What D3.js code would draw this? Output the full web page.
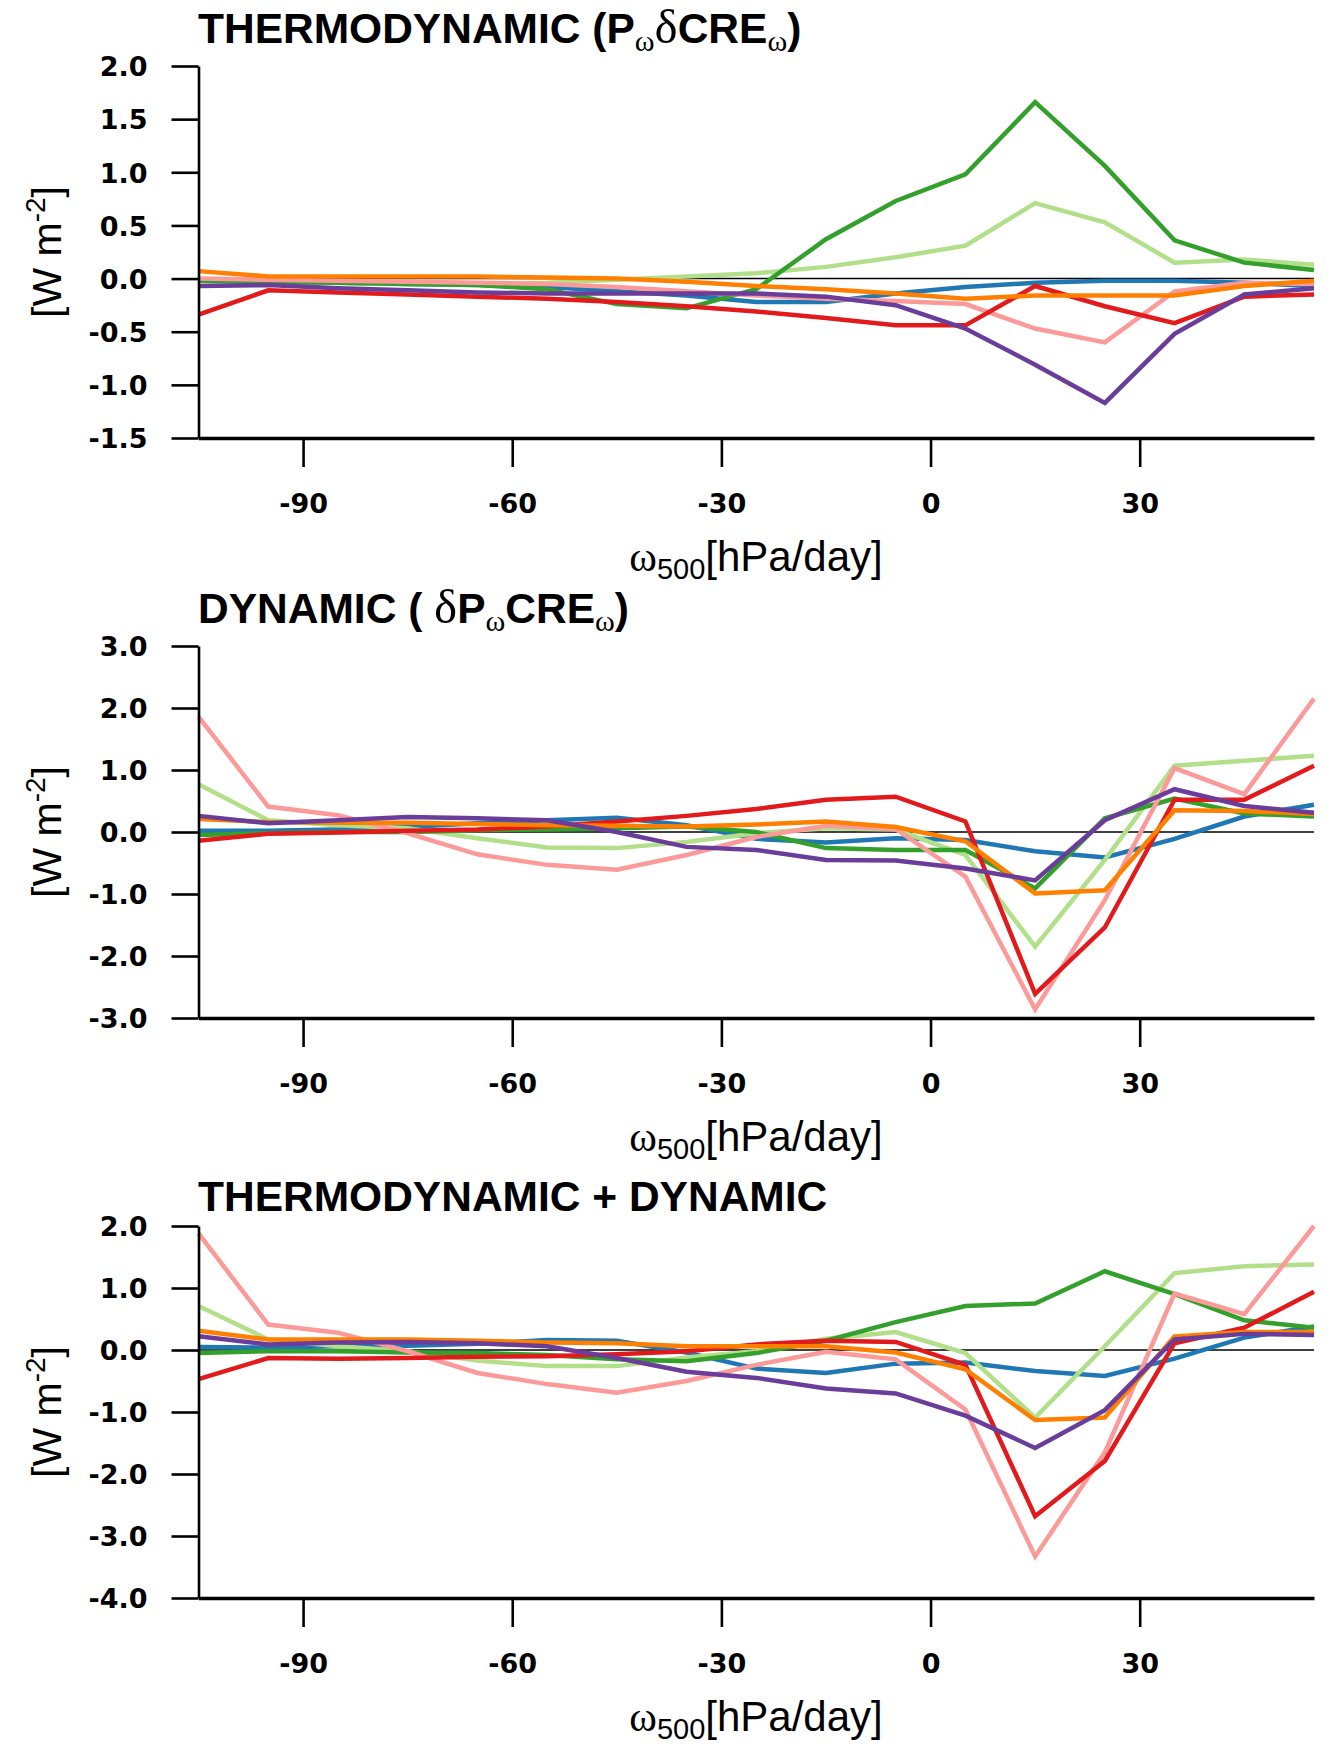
<!DOCTYPE html>
<html>
<head>
<meta charset="utf-8">
<script src="https://cdn.jsdelivr.net/npm/d3@7"></script>
<style>
  html, body { margin: 0; padding: 0; background: #fff; }
  svg { display: block; }
</style>
</head>
<body>
<svg id="chart" width="1331" height="1744"></svg>
<script>
// ---------------- DATA ----------------
const omega500 = [-105, -95, -85, -75, -65, -55, -45, -35, -25, -15, -5, 5, 15, 25, 35, 45, 55];
const xTickValues = [-90, -60, -30, 0, 30];

const seriesNames = ["blue", "lightgreen", "green", "pink", "red", "orange", "purple"];
const seriesColors = ["#1f78b4", "#b2df8a", "#33a02c", "#fb9a99", "#e31a1c", "#ff7f00", "#6a3d9a"];

// Panel 1: THERMODYNAMIC
const thermoBlue   = [-0.02, -0.03, -0.04, -0.05, -0.06, -0.08, -0.12, -0.16, -0.22, -0.22, -0.14, -0.08, -0.04, -0.02, -0.02, -0.04, -0.07];
const thermoLGreen = [-0.01, -0.02, -0.04, -0.05, -0.05, -0.04, -0.01, 0.02, 0.05, 0.11, 0.20, 0.31, 0.71, 0.53, 0.15, 0.18, 0.13];
const thermoGreen  = [-0.02, -0.03, -0.04, -0.05, -0.06, -0.10, -0.24, -0.28, -0.10, 0.37, 0.73, 0.98, 1.66, 1.06, 0.36, 0.15, 0.08];
const thermoPink   = [0.00, -0.01, -0.02, -0.03, -0.04, -0.05, -0.08, -0.12, -0.16, -0.19, -0.21, -0.24, -0.47, -0.60, -0.12, -0.04, -0.05];
const thermoRed    = [-0.34, -0.11, -0.13, -0.15, -0.17, -0.19, -0.22, -0.26, -0.31, -0.37, -0.44, -0.44, -0.07, -0.26, -0.42, -0.17, -0.15];
const thermoOrange = [0.07, 0.02, 0.02, 0.02, 0.02, 0.01, 0.00, -0.03, -0.07, -0.10, -0.14, -0.19, -0.16, -0.16, -0.16, -0.07, -0.02];
const thermoPurple = [-0.07, -0.06, -0.09, -0.11, -0.13, -0.14, -0.14, -0.14, -0.14, -0.17, -0.25, -0.47, -0.81, -1.17, -0.52, -0.15, -0.09];

// Panel 2: DYNAMIC
const dynBlue   = [0.02, 0.02, 0.04, 0.08, 0.14, 0.19, 0.23, 0.11, -0.11, -0.17, -0.10, -0.13, -0.31, -0.41, -0.11, 0.25, 0.44];
const dynLGreen = [0.77, 0.19, 0.11, 0.06, -0.10, -0.25, -0.26, -0.16, -0.02, 0.06, 0.04, -0.37, -1.85, -0.45, 1.07, 1.15, 1.23];
const dynGreen  = [-0.05, -0.02, 0.00, 0.00, 0.03, 0.04, 0.06, 0.09, 0.00, -0.26, -0.29, -0.29, -0.91, 0.22, 0.54, 0.30, 0.25];
const dynPink   = [1.86, 0.41, 0.27, -0.02, -0.36, -0.53, -0.61, -0.37, -0.08, 0.10, 0.05, -0.72, -2.86, -1.10, 1.03, 0.61, 2.15];
const dynRed    = [-0.14, -0.03, -0.01, 0.02, 0.04, 0.09, 0.17, 0.26, 0.37, 0.52, 0.57, 0.17, -2.61, -1.54, 0.52, 0.52, 1.07];
const dynOrange = [0.21, 0.16, 0.15, 0.15, 0.13, 0.11, 0.10, 0.09, 0.12, 0.17, 0.08, -0.15, -0.99, -0.94, 0.35, 0.34, 0.29];
const dynPurple = [0.26, 0.14, 0.19, 0.24, 0.22, 0.19, 0.00, -0.24, -0.29, -0.45, -0.46, -0.59, -0.78, 0.19, 0.69, 0.42, 0.31];

// Panel 3: THERMODYNAMIC + DYNAMIC
const sumBlue   = [0.05, 0.04, 0.06, 0.07, 0.10, 0.16, 0.15, -0.04, -0.30, -0.37, -0.22, -0.20, -0.34, -0.42, -0.14, 0.20, 0.38];
const sumLGreen = [0.71, 0.17, 0.06, -0.02, -0.17, -0.26, -0.26, -0.12, -0.02, 0.18, 0.29, -0.05, -1.09, 0.06, 1.24, 1.35, 1.38];
const sumGreen  = [-0.05, -0.02, -0.02, -0.04, -0.05, -0.08, -0.15, -0.18, -0.05, 0.15, 0.45, 0.71, 0.75, 1.27, 0.90, 0.48, 0.36];
const sumPink   = [1.88, 0.41, 0.28, -0.02, -0.37, -0.55, -0.69, -0.50, -0.24, -0.03, -0.15, -0.96, -3.33, -1.65, 0.91, 0.58, 2.00];
const sumRed    = [-0.47, -0.13, -0.14, -0.13, -0.11, -0.10, -0.07, -0.02, 0.09, 0.15, 0.13, -0.24, -2.68, -1.79, 0.11, 0.36, 0.94];
const sumOrange = [0.31, 0.17, 0.17, 0.17, 0.15, 0.12, 0.11, 0.06, 0.06, 0.06, -0.04, -0.31, -1.13, -1.09, 0.22, 0.29, 0.29];
const sumPurple = [0.22, 0.09, 0.12, 0.13, 0.11, 0.06, -0.13, -0.35, -0.45, -0.62, -0.70, -1.06, -1.58, -0.97, 0.17, 0.26, 0.24];

const thermoTicks = [-1.5, -1.0, -0.5, 0.0, 0.5, 1.0, 1.5, 2.0];
const dynTicks = [-3, -2, -1, 0, 1, 2, 3];
const sumTicks = [-4, -3, -2, -1, 0, 1, 2];

// ---------------- LAYOUT ----------------
const panels = [
  { offset: 0,    yDomain: [-1.5, 2.0], ticks: thermoTicks,
    series: [thermoBlue, thermoLGreen, thermoGreen, thermoPink, thermoRed, thermoOrange, thermoPurple],
    title: [
      { t: "THERMODYNAMIC (P", k: "b" }, { t: "ω", k: "sub" }, { t: "δ", k: "g" },
      { t: "CRE", k: "b" }, { t: "ω", k: "sub" }, { t: ")", k: "b" }
    ], titleY: 42.5 },
  { offset: 580,  yDomain: [-3, 3], ticks: dynTicks,
    series: [dynBlue, dynLGreen, dynGreen, dynPink, dynRed, dynOrange, dynPurple],
    title: [
      { t: "DYNAMIC ( ", k: "b" }, { t: "δ", k: "g" }, { t: "P", k: "b" }, { t: "ω", k: "sub" },
      { t: "CRE", k: "b" }, { t: "ω", k: "sub" }, { t: ")", k: "b" }
    ], titleY: 42.5 },
  { offset: 1160, yDomain: [-4, 2], ticks: sumTicks,
    series: [sumBlue, sumLGreen, sumGreen, sumPink, sumRed, sumOrange, sumPurple],
    title: [ { t: "THERMODYNAMIC + DYNAMIC", k: "b" } ], titleY: 50.5 }
];

const plotLeft = 198.5, plotRight = 1314, plotTop = 66, plotBottom = 438;
const sansFont = "'Liberation Sans', Arial, Helvetica, sans-serif";
const tickFont = "'DejaVu Sans', 'Liberation Sans', sans-serif";
const serifFont = "'Liberation Serif', 'DejaVu Serif', serif";

const svg = d3.select("#chart");
const x = d3.scaleLinear().domain([-105, 55]).range([plotLeft, plotRight]);

panels.forEach(p => {
  const g = svg.append("g").attr("transform", `translate(0,${p.offset})`);
  const y = d3.scaleLinear().domain(p.yDomain).range([plotBottom, plotTop]);

  // zero line
  g.append("line")
    .attr("x1", x(-105)).attr("x2", x(55))
    .attr("y1", y(0)).attr("y2", y(0))
    .attr("stroke", "#000").attr("stroke-width", 1.5);

  // series lines
  const line = d3.line().x((d, i) => x(omega500[i])).y(d => y(d));
  p.series.forEach((vals, si) => {
    g.append("path")
      .datum(vals)
      .attr("class", "series " + seriesNames[si])
      .attr("fill", "none")
      .attr("stroke", seriesColors[si])
      .attr("stroke-width", 4.5)
      .attr("stroke-linejoin", "miter")
      .attr("d", line);
  });

  // y axis
  const yAxis = d3.axisLeft(y).tickValues(p.ticks)
    .tickFormat(d => d.toFixed(1))
    .tickSize(27).tickSizeOuter(0).tickPadding(24);
  const ya = g.append("g").attr("transform", `translate(${plotLeft},0)`).call(yAxis);
  ya.select(".domain").attr("stroke-width", 2.6);
  ya.selectAll(".tick line").attr("stroke-width", 2.6);
  ya.selectAll(".tick text").attr("font-family", tickFont).attr("font-weight", "bold")
    .attr("font-size", 27).attr("fill", "#000").attr("dy", "0.36em");

  // x axis
  const xAxis = d3.axisBottom(x).tickValues(xTickValues)
    .tickFormat(d => String(d))
    .tickSize(29).tickSizeOuter(0).tickPadding(27);
  const xa = g.append("g").attr("transform", `translate(0,${plotBottom})`).call(xAxis);
  xa.select(".domain").attr("stroke-width", 3.4);
  xa.selectAll(".tick line").attr("stroke-width", 2.6);
  xa.selectAll(".tick text").attr("font-family", tickFont).attr("font-weight", "bold")
    .attr("font-size", 27).attr("fill", "#000");

  // title
  const tt = g.append("text").attr("x", 198).attr("y", p.titleY).attr("fill", "#000");
  let shifted = false;
  p.title.forEach(part => {
    const ts = tt.append("tspan").text(part.t);
    if (part.k === "b") {
      ts.attr("font-family", sansFont).attr("font-weight", "bold").attr("font-size", 42.5);
      if (shifted) { ts.attr("dy", -8); shifted = false; }
    } else if (part.k === "g") {
      ts.attr("font-family", serifFont).attr("font-size", 49);
      if (shifted) { ts.attr("dy", -8); shifted = false; }
    } else {
      ts.attr("font-family", serifFont).attr("font-size", 30).attr("dy", 8);
      shifted = true;
    }
  });

  // y label
  const yl = g.append("text")
    .attr("transform", `translate(61,252) rotate(-90)`)
    .attr("text-anchor", "middle")
    .attr("font-family", sansFont).attr("font-size", 41).attr("fill", "#000");
  yl.append("tspan").text("[W m");
  yl.append("tspan").attr("font-size", 28).attr("dy", -16).text("-2");
  yl.append("tspan").attr("dy", 16).text("]");

  // x label
  const xl = g.append("text")
    .attr("x", 756).attr("y", 571)
    .attr("text-anchor", "middle")
    .attr("font-family", sansFont).attr("font-size", 42).attr("fill", "#000");
  xl.append("tspan").attr("font-family", serifFont).text("ω");
  xl.append("tspan").attr("font-size", 29).attr("dy", 8).text("500");
  xl.append("tspan").attr("dy", -8).text("[hPa/day]");
});
</script>
</body>
</html>
